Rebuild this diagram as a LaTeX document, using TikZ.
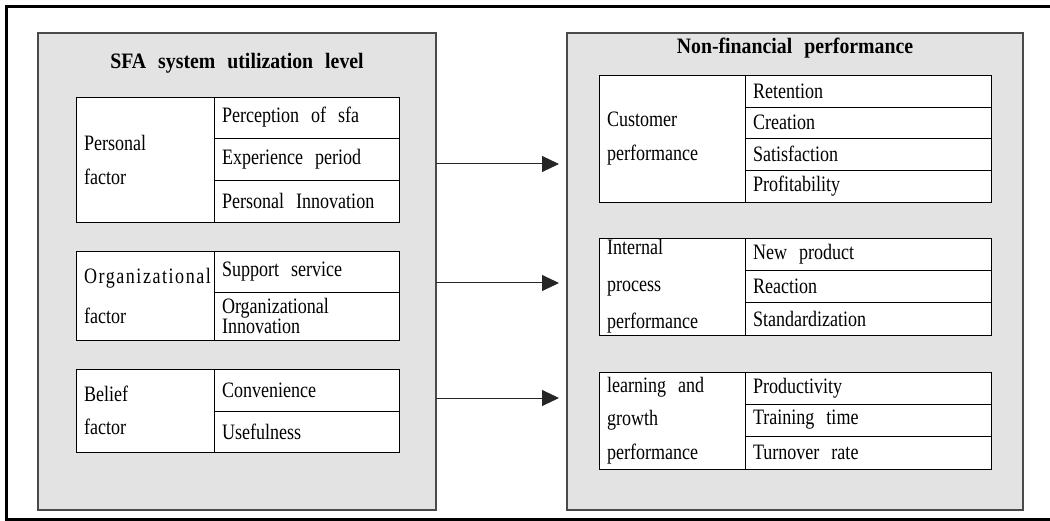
\documentclass[tikz,border=0pt]{standalone}
\usepackage{fontspec}
\setmainfont{Liberation Serif}[FakeStretch=0.82,BoldFeatures={FakeStretch=0.9}]
\newfontfamily\tracked{Liberation Serif}[FakeStretch=0.82,LetterSpace=7]
\usetikzlibrary{arrows.meta}
\definecolor{panelgray}{HTML}{E3E3E3}
\definecolor{edgegray}{HTML}{4A4A4A}
\begin{document}
\begin{tikzpicture}[x=1pt,y=-1pt,
  every node/.style={inner sep=0pt,outer sep=0pt,execute at begin node={\spaceskip=12pt\relax}},
  panel/.style={draw=edgegray,fill=panelgray,line width=1.1pt,anchor=north west},
  heading/.style={font=\fontsize{22}{26}\selectfont\bfseries},
  cell/.style={draw=black,fill=white,line width=0.9pt,anchor=north west,
    inner xsep=8pt,align=left,font=\fontsize{22}{34}\selectfont},
  lcolA/.style={minimum width=138pt,text width=122pt},
  lcolB/.style={minimum width=185pt,text width=169pt},
  rcolA/.style={minimum width=146pt,text width=130pt},
  rcolB/.style={minimum width=246pt,text width=230pt},
  link/.style={draw=black!85,line width=1pt,-{Triangle[length=17pt,width=16pt]}},
  frame/.style={draw=black,line width=3pt}]
\useasboundingbox (0,0) rectangle (1050,521);

% outer frame (open on the right)
\draw[frame] (1050,6.5) -- (6.5,6.5) -- (6.5,519) -- (1050,519);

% the two panels
\node[panel,minimum width=398pt,minimum height=477pt] (lpanel) at (38,33) {};
\node[panel,minimum width=456pt,minimum height=477pt] (rpanel) at (567,33) {};
\node[heading] (ltitle) at (237,63) {SFA system utilization level};
\node[heading] (rtitle) at (795,48) {Non-financial performance};

% ---- left panel: personal factor
\node[cell,lcolA,minimum height=125pt] (pers) at (76,97) {Personal\\factor};
\node[cell,lcolB,minimum height=41pt] (pers1) at (214,97) {Perception of sfa};
\node[cell,lcolB,minimum height=42pt] (pers2) at (214,138) {Experience period};
\node[cell,lcolB,minimum height=42pt] (pers3) at (214,180) {Personal Innovation};

% ---- left panel: organizational factor
\node[cell,lcolA,minimum height=89pt,font=\fontsize{22}{40}\selectfont] (org) at (76,251)
  {{\tracked Organizational}\\factor};
\node[cell,lcolB,minimum height=41pt] (org1) at (214,251) {Support service};
\node[cell,lcolB,minimum height=48pt,font=\fontsize{22}{19}\selectfont] (org2) at (214,292)
  {Organizational\\Innovation};

% ---- left panel: belief factor
\node[cell,lcolA,minimum height=83pt,font=\fontsize{22}{33}\selectfont] (bel) at (76,369) {Belief\\factor};
\node[cell,lcolB,minimum height=42pt] (bel1) at (214,369) {Convenience};
\node[cell,lcolB,minimum height=41pt] (bel2) at (214,411) {Usefulness};

% ---- right panel: customer performance
\node[cell,rcolA,minimum height=127pt] (cust) at (599,75) {Customer\\performance};
\node[cell,rcolB,minimum height=32pt] (cust1) at (745,75) {Retention};
\node[cell,rcolB,minimum height=31pt] (cust2) at (745,107) {Creation};
\node[cell,rcolB,minimum height=32pt] (cust3) at (745,138) {Satisfaction};
\node[cell,rcolB,minimum height=32pt] (cust4) at (745,170) {Profitability};

% ---- right panel: internal process performance
\node[cell,rcolA,minimum height=97pt,font=\fontsize{22}{37}\selectfont] (proc) at (599,238)
  {Internal\\process\\performance};
\node[cell,rcolB,minimum height=32pt] (proc1) at (745,238) {New product};
\node[cell,rcolB,minimum height=32pt] (proc2) at (745,270) {Reaction};
\node[cell,rcolB,minimum height=33pt] (proc3) at (745,302) {Standardization};

% ---- right panel: learning and growth performance
\node[cell,rcolA,minimum height=97pt,font=\fontsize{22}{33.5}\selectfont] (learn) at (599,372)
  {learning and\\growth\\performance};
\node[cell,rcolB,minimum height=32pt] (learn1) at (745,372) {Productivity};
\node[cell,rcolB,minimum height=32pt] (learn2) at (745,404) {Training time};
\node[cell,rcolB,minimum height=33pt] (learn3) at (745,436) {Turnover rate};

% ---- connecting arrows
\coordinate (tip1) at (559,164);
\coordinate (tip2) at (559,283);
\coordinate (tip3) at (559,398);
\draw[link] (lpanel.east |- tip1) -- (tip1);
\draw[link] (lpanel.east |- tip2) -- (tip2);
\draw[link] (lpanel.east |- tip3) -- (tip3);
\end{tikzpicture}
\end{document}
